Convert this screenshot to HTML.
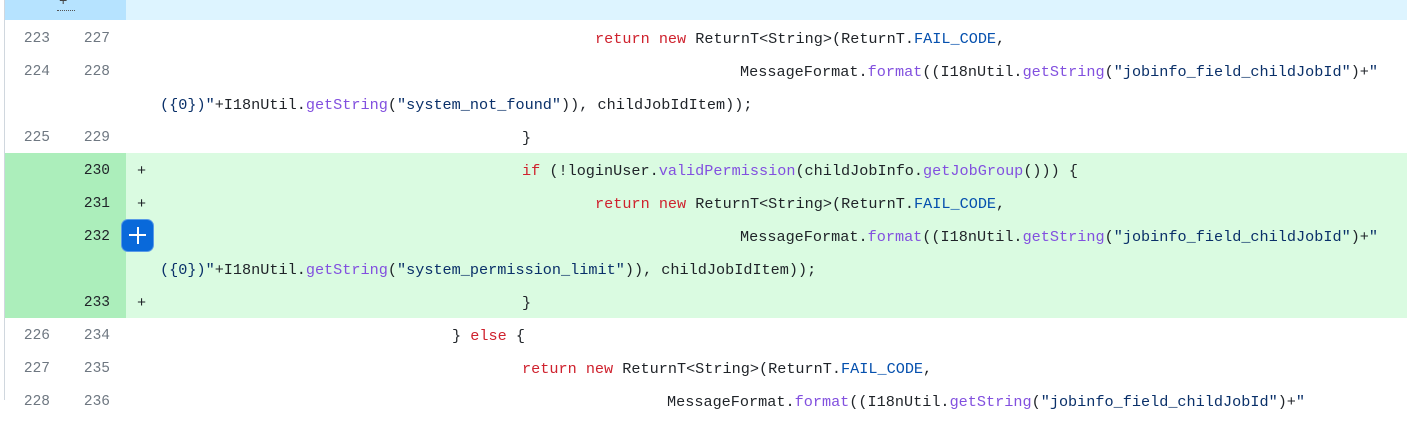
<!DOCTYPE html>
<html><head><meta charset="utf-8"><style>
body{margin:0;width:1407px;height:400px;overflow:hidden;background:#fff;font-family:"Liberation Mono",monospace;font-size:15.2px;color:#1f2328;position:relative}
.row{position:absolute;left:5px;right:0;height:33px;line-height:37px}
.n1,.n2{position:absolute;top:0;width:60px;text-align:right;color:#6e7781;font-size:14.5px}
.n1{left:0;width:45px}.n2{left:60px;width:45px}
.g .n1,.g .n2{color:#1f2328}
.g{background:#dafbe1}
.g::before{content:"";position:absolute;left:0;top:0;width:121px;height:33px;background:#aceebb}
.c{position:absolute;top:0;white-space:pre}
.pm{position:absolute;left:132px;top:0}
.k{color:#cf222e}.b{color:#0550ae}.p{color:#8250df}.s{color:#0a3069}
</style></head><body>
<div style="position:absolute;left:4px;top:0;width:1px;height:400px;background:#d0d7de"></div>
<div style="position:absolute;left:5px;top:0;width:121px;height:20px;background:#b6e3ff"></div>
<div style="position:absolute;left:126px;top:0;right:0;height:20px;background:#ddf4ff"></div>
<div style="position:absolute;left:59px;top:-5px;font-size:14px;line-height:14px;color:#444">+</div>
<div style="position:absolute;left:57px;top:10px;width:18px;border-top:1px dotted #555"></div>

<div class="row" style="top:21px"><span class="n1">223</span><span class="n2">227</span><span class="c" style="left:590px"><span class="k">return</span> <span class="k">new</span> ReturnT&lt;String&gt;(ReturnT.<span class="b">FAIL_CODE</span>,</span></div>
<div class="row" style="top:54px"><span class="n1">224</span><span class="n2">228</span><span class="c" style="left:735px">MessageFormat.<span class="p">format</span>((I18nUtil.<span class="p">getString</span>(<span class="s">"jobinfo_field_childJobId"</span>)+<span class="s">"</span></span></div>
<div class="row" style="top:87px"><span class="c" style="left:155px"><span class="s">({0})"</span>+I18nUtil.<span class="p">getString</span>(<span class="s">"system_not_found"</span>)), childJobIdItem));</span></div>
<div class="row" style="top:120px"><span class="n1">225</span><span class="n2">229</span><span class="c" style="left:517px">}</span></div>

<div class="row g" style="top:153px"><span class="n2">230</span><span class="pm">+</span><span class="c" style="left:517px"><span class="k">if</span> (!loginUser.<span class="p">validPermission</span>(childJobInfo.<span class="p">getJobGroup</span>())) {</span></div>
<div class="row g" style="top:186px"><span class="n2">231</span><span class="pm">+</span><span class="c" style="left:590px"><span class="k">return</span> <span class="k">new</span> ReturnT&lt;String&gt;(ReturnT.<span class="b">FAIL_CODE</span>,</span></div>
<div class="row g" style="top:219px"><span class="n2">232</span><span class="c" style="left:735px">MessageFormat.<span class="p">format</span>((I18nUtil.<span class="p">getString</span>(<span class="s">"jobinfo_field_childJobId"</span>)+<span class="s">"</span></span></div>
<div class="row g" style="top:252px"><span class="c" style="left:155px"><span class="s">({0})"</span>+I18nUtil.<span class="p">getString</span>(<span class="s">"system_permission_limit"</span>)), childJobIdItem));</span></div>
<div class="row g" style="top:285px"><span class="n2">233</span><span class="pm">+</span><span class="c" style="left:517px">}</span></div>

<div class="row" style="top:318px"><span class="n1">226</span><span class="n2">234</span><span class="c" style="left:447px">} <span class="k">else</span> {</span></div>
<div class="row" style="top:351px"><span class="n1">227</span><span class="n2">235</span><span class="c" style="left:517px"><span class="k">return</span> <span class="k">new</span> ReturnT&lt;String&gt;(ReturnT.<span class="b">FAIL_CODE</span>,</span></div>
<div class="row" style="top:384px"><span class="n1">228</span><span class="n2">236</span><span class="c" style="left:662px">MessageFormat.<span class="p">format</span>((I18nUtil.<span class="p">getString</span>(<span class="s">"jobinfo_field_childJobId"</span>)+<span class="s">"</span></span></div>

<div style="position:absolute;left:122px;top:220px;width:31px;height:31px;background:#0969da;border-radius:6px;box-shadow:0 0 0 1px #5a9be6"></div>
<div style="position:absolute;left:129px;top:234px;width:17px;height:2px;background:#fff"></div>
<div style="position:absolute;left:136.5px;top:227px;width:2px;height:17px;background:#fff"></div>
</body></html>
